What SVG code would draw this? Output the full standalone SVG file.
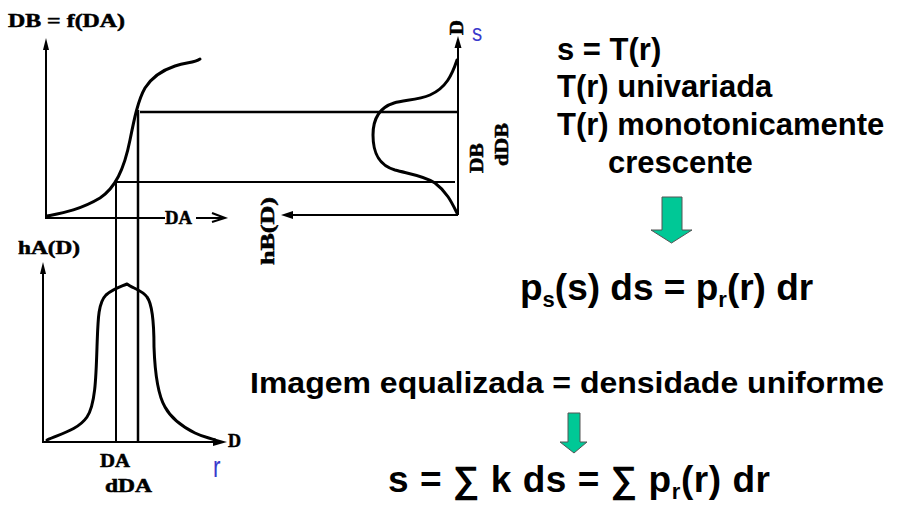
<svg xmlns="http://www.w3.org/2000/svg" width="900" height="506" viewBox="0 0 900 506">
<defs>
<style>
.ser{font-family:"Liberation Serif","DejaVu Serif",serif;font-weight:bold;fill:#000;stroke:#000;stroke-width:0.5}
.san{font-family:"Liberation Sans",Arial,sans-serif;font-weight:bold;fill:#000}
.blue{font-family:"Liberation Sans",Arial,sans-serif;fill:#3a3acc}
.ax{stroke:#000;stroke-width:2;fill:none}
.cv{stroke:#000;stroke-width:3;fill:none;stroke-linejoin:round;stroke-linecap:round}
.ln{stroke:#000;stroke-width:2;fill:none}
.gr{fill:#00c896;stroke:#555;stroke-width:1}
</style>
</defs>
<rect width="900" height="506" fill="#fff"/>

<g id="top-plot">
<text class="ser" x="8" y="27" font-size="19" textLength="117" lengthAdjust="spacingAndGlyphs">DB = f(DA)</text>
<line class="ax" x1="46" y1="44" x2="46" y2="219"/>
<polygon points="46,38 43,50 49,50" fill="#000"/>
<line class="ax" x1="45" y1="218" x2="165" y2="218"/>
<text class="ser" x="165" y="224" font-size="18" textLength="27" lengthAdjust="spacingAndGlyphs">DA</text>
<line class="ax" x1="196" y1="218" x2="224" y2="218"/>
<polyline points="212,213 225,218 212,222" fill="none" stroke="#000" stroke-width="2"/>
<path class="cv" d="M47,216 C62,213 80,210 100,198 C115,188 124,170 130,140 C134,120 138,100 145,88 C152,77 163,70 175,66 C187,62 194,63 200,59"/>
</g>

<g id="right-plot">
<line class="ax" x1="458" y1="44" x2="458" y2="215"/>
<polygon points="458,36 454.5,48 461.5,48" fill="#000"/>
<text class="ser" transform="translate(463,35) rotate(-90)" font-size="18" textLength="15" lengthAdjust="spacingAndGlyphs">D</text>
<text class="blue" transform="translate(472,41) scale(0.85,1)" font-size="24">s</text>
<line class="ax" x1="458" y1="215" x2="290" y2="215"/>
<polygon points="281,215 293,211 293,219" fill="#000"/>
<text class="ser" transform="translate(274,265) rotate(-90)" font-size="18" textLength="68" lengthAdjust="spacingAndGlyphs">hB(D)</text>
<text class="ser" transform="translate(483,173) rotate(-90)" font-size="18" textLength="30" lengthAdjust="spacingAndGlyphs">DB</text>
<text class="ser" transform="translate(508,166) rotate(-90)" font-size="18" textLength="43" lengthAdjust="spacingAndGlyphs">dDB</text>
<path class="cv" d="M457,60 C452,75 446,88 430,95 C418,100 404,100 394,103 C378,108 373,120 373,135 C373,152 378,165 395,170 C410,174 425,176 435,183 C447,192 452,203 457,213"/>
</g>

<g id="bottom-plot">
<text class="ser" x="18" y="254" font-size="19" textLength="62" lengthAdjust="spacingAndGlyphs">hA(D)</text>
<line class="ax" x1="43" y1="268" x2="43" y2="443"/>
<polygon points="43,262 40,274 46,274" fill="#000"/>
<line class="ax" x1="42" y1="442" x2="220" y2="442"/>
<polygon points="227,442 213,438 213,446" fill="#000"/>
<text class="ser" x="228" y="447" font-size="18">D</text>
<text class="ser" x="100" y="467" font-size="18" textLength="30" lengthAdjust="spacingAndGlyphs">DA</text>
<text class="ser" x="105" y="492" font-size="18" textLength="47" lengthAdjust="spacingAndGlyphs">dDA</text>
<text class="blue" transform="translate(213,477) scale(0.75,1)" font-size="30">r</text>
<path class="cv" d="M47,440 C60,434 78,430 87,417 C95,405 96,380 97,347 C98,320 98,303 106,295 C113,289 120,287 127,284 C132,288 142,290 147,297 C153,305 154,330 154,347 C155,375 158,395 165,407 C172,420 183,427 195,433 C203,437 210,438 215,440"/>
</g>

<g id="connectors">
<line stroke="#000" stroke-width="2.5" x1="140" y1="112" x2="458" y2="112"/>
<line class="ln" x1="116" y1="182" x2="455" y2="182"/>
<line stroke="#000" stroke-width="2.5" x1="138" y1="110" x2="138" y2="443"/>
<line class="ln" x1="116" y1="182" x2="116" y2="443"/>
</g>

<g id="text-right">
<text class="san" x="557" y="60" font-size="31">s = T(r)</text>
<text class="san" x="557" y="97" font-size="31">T(r) univariada</text>
<text class="san" x="557" y="135" font-size="31">T(r) monotonicamente</text>
<text class="san" x="608" y="173" font-size="31">crescente</text>
</g>

<g id="arrow1"><polygon class="gr" points="662,197 682,197 682,230 692,230 671.5,243 651,230 662,230"/></g>

<g id="eq1"><text class="san" x="520" y="300" font-size="37">p<tspan font-size="22" dy="7">s</tspan><tspan dy="-7">(s) ds = p</tspan><tspan font-size="22" dy="7">r</tspan><tspan dy="-7">(r) dr</tspan></text></g>

<g id="eq2"><text class="san" x="250" y="393" font-size="30" textLength="634" lengthAdjust="spacingAndGlyphs">Imagem equalizada = densidade uniforme</text></g>

<g id="arrow2"><polygon class="gr" points="568,413 580,413 580,442 587,442 574,453 560,442 568,442"/></g>

<g id="eq3"><text class="san" x="388" y="492" font-size="37" textLength="382" lengthAdjust="spacing">s = ∑ k ds = ∑ p<tspan font-size="22" dy="7">r</tspan><tspan dy="-7">(r) dr</tspan></text></g>
</svg>
